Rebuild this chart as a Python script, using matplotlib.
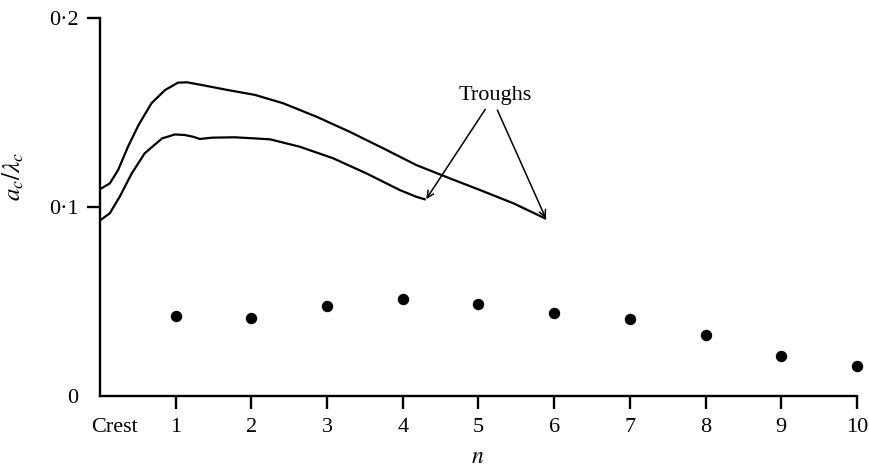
import matplotlib
matplotlib.use("Agg")
import matplotlib.pyplot as plt
import matplotlib.transforms as mtransforms

# ── data ─────────────────────────────────────────────────────────────────────
# upper envelope curve
upper_n = [0.02, 0.13, 0.24, 0.37, 0.51, 0.68, 0.86, 1.03, 1.15, 1.34, 1.69,
           2.05, 2.42, 2.86, 3.30, 3.74, 4.18, 4.62, 5.02, 5.46, 5.88]
upper_a = [0.1099, 0.1125, 0.1196, 0.1319, 0.1434, 0.1549, 0.1619, 0.1658,
           0.1660, 0.1646, 0.1619, 0.1593, 0.1549, 0.1478, 0.1398, 0.1311,
           0.1222, 0.1152, 0.1090, 0.1020, 0.0940]

# lower envelope curve
lower_n = [0.02, 0.13, 0.26, 0.42, 0.59, 0.82, 0.99, 1.12, 1.23, 1.32, 1.48,
           1.78, 2.05, 2.25, 2.64, 3.08, 3.52, 3.96, 4.18, 4.29]
lower_a = [0.0935, 0.0967, 0.1054, 0.1178, 0.1284, 0.1363, 0.1384, 0.1381,
           0.1372, 0.1360, 0.1367, 0.1369, 0.1363, 0.1358, 0.1319, 0.1258,
           0.1178, 0.1090, 0.1054, 0.1041]

# crest values (dots)
crest_n = [1, 2, 3, 4, 5, 6, 7, 8, 9, 10]
crest_a = [0.0423, 0.0414, 0.0478, 0.0513, 0.0488, 0.0441, 0.0406, 0.0321,
           0.0213, 0.0159]

x_ticks = [1, 2, 3, 4, 5, 6, 7, 8, 9, 10]
y_ticks = [0, 0.1, 0.2]
y_tick_labels = ["0", "0\u00b71", "0\u00b72"]

# annotation: label position and the two trough ends it points at
trough_label = (5.22, 0.159)
trough_tails = [(5.09, 0.1517), (5.25, 0.1513)]
trough_heads = [(4.31, 0.1042), (5.89, 0.0940)]

# ── style ────────────────────────────────────────────────────────────────────
plt.rcParams.update({
    "font.family": "Liberation Serif",
    "mathtext.fontset": "stix",
    "font.size": 16,
})

fig = plt.figure(figsize=(8.7, 4.71), dpi=100)
ax = fig.add_axes([0.1149, 0.1592, 0.8701, 0.8025])

ax.plot(upper_n, upper_a, color="black", lw=1.6, solid_joinstyle="round")
ax.plot(lower_n, lower_a, color="black", lw=1.6, solid_joinstyle="round")
ax.plot(crest_n, crest_a, "o", color="black", ms=7.2, clip_on=False)

ax.text(*trough_label, "Troughs", ha="center", va="center", fontsize=16)
for tail, head in zip(trough_tails, trough_heads):
    ax.annotate("", xy=head, xytext=tail,
                arrowprops=dict(arrowstyle="->", color="black", lw=1.1,
                                mutation_scale=12, shrinkA=0, shrinkB=0))

# ── axes ─────────────────────────────────────────────────────────────────────
ax.set_xlim(0, 10)
ax.set_ylim(0, 0.2)
for side in ["top", "right"]:
    ax.spines[side].set_visible(False)
for side in ["left", "bottom"]:
    ax.spines[side].set_linewidth(1.7)

ax.set_xticks(x_ticks)
ax.set_yticks(y_ticks)
ax.set_yticklabels(y_tick_labels)
ax.yaxis.get_major_ticks()[0].tick1line.set_visible(False)
ax.tick_params(axis="both", direction="out", length=9.5, width=1.7, labelsize=16)
ax.tick_params(axis="x", pad=6)
ax.tick_params(axis="y", pad=6)

# "Crest" sits just right of the origin, below the axis
trans = mtransforms.blended_transform_factory(ax.transData, ax.transAxes)
ax.annotate("Crest", xy=(0.19, 0), xycoords=trans, xytext=(0, -15.5),
            textcoords="offset points", ha="center", va="top", fontsize=16)

ax.set_xlabel("$n$", fontsize=17)
ax.xaxis.set_label_coords(0.499, -0.135)
ax.set_ylabel(r"$a_c/\lambda_c$", fontsize=18)
ax.yaxis.set_label_coords(-0.098, 0.58)

fig.savefig("out.png", dpi=100)
